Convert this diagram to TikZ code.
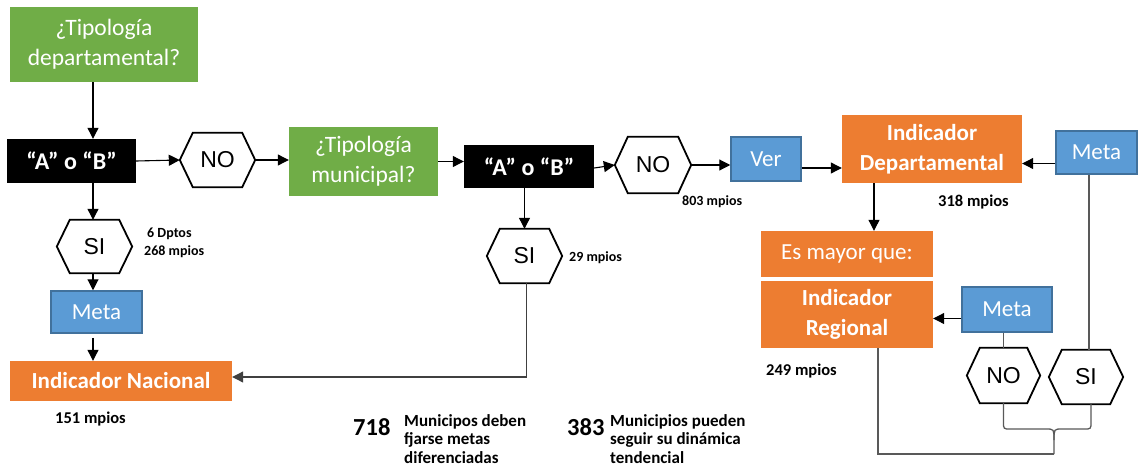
\documentclass[tikz,border=0pt]{standalone}
\usepackage{fontspec}
\setmainfont{Carlito}
\newfontfamily\hexfont{Liberation Sans}
\usetikzlibrary{arrows.meta}
\definecolor{cgreen}{HTML}{70AD47}
\definecolor{corange}{HTML}{ED7D31}
\definecolor{cblue}{HTML}{5B9BD5}
\definecolor{cblueline}{HTML}{41719C}
\begin{document}
\begin{tikzpicture}[x=1pt,y=-1pt,
  box/.style={inner sep=0pt, text=white, align=center},
  greenbox/.style={box, fill=cgreen, font=\fontsize{23.5}{30}\selectfont},
  blackbox/.style={box, fill=black, font=\bfseries\fontsize{24}{28}\selectfont},
  orangebox/.style={box, fill=corange, font=\bfseries\fontsize{23}{30}\selectfont},
  orangeplain/.style={box, fill=corange, font=\fontsize{23}{28}\selectfont},
  bluebox/.style={box, fill=cblue, draw=cblueline, line width=1.5pt, font=\fontsize{23}{28}\selectfont},
  hexbox/.style={inner sep=0pt, font=\hexfont\fontsize{23}{28}\selectfont},
  hexline/.style={draw=black, line width=1.8pt, line join=miter},
  arr/.style={draw=black, line width=1.1pt, -{Triangle[length=11pt,width=11pt]}},
  link/.style={draw=black!65, line width=1.3pt},
  small/.style={font=\bfseries\fontsize{14}{16}\selectfont, inner sep=0pt, anchor=base west},
  mid/.style={font=\bfseries\fontsize{16.5}{19}\selectfont, inner sep=0pt, anchor=base west},
  note/.style={font=\bfseries\fontsize{17}{18.5}\selectfont, inner sep=0pt, anchor=north west, align=left},
  big/.style={font=\bfseries\fontsize{24.5}{28}\selectfont, inner sep=0pt, anchor=base west},
]
\useasboundingbox[fill=white] (0,0) rectangle (1138,471);

% boxes
\node[greenbox, minimum width=188pt, minimum height=75pt] (g1) at (104,44.5) {¿Tipología\\departamental?};
\node[blackbox, minimum width=129pt, minimum height=44pt] (b1) at (71.5,161) {“A” o “B”};
\node[hexbox, minimum width=75pt, minimum height=54pt] (no1) at (217.5,160) {NO};
\node[greenbox, minimum width=149pt, minimum height=69pt] (g2) at (363.5,161.5) {¿Tipología\\municipal?};
\node[blackbox, minimum width=130pt, minimum height=43pt] (b2) at (529,166.5) {“A” o “B”};
\node[hexbox, minimum width=76pt, minimum height=56pt] (no2) at (653,165) {NO};
\node[bluebox, minimum width=70pt, minimum height=44pt] (ver) at (766,159) {Ver};
\node[orangebox, minimum width=180pt, minimum height=68pt] (indDep) at (932,149) {Indicador\\Departamental};
\node[bluebox, minimum width=81pt, minimum height=43pt] (metaR) at (1096.5,152.5) {Meta};
\node[orangeplain, minimum width=172pt, minimum height=46pt] (esM) at (847,254) {Es mayor que:};
\node[orangebox, minimum width=172pt, minimum height=67pt] (indReg) at (847,314.5) {Indicador\\Regional};
\node[bluebox, minimum width=90pt, minimum height=45pt] (meta2) at (1007,309.5) {Meta};
\node[hexbox, minimum width=73pt, minimum height=55pt] (no3) at (1003.5,375.5) {NO};
\node[hexbox, minimum width=74pt, minimum height=54pt] (si3) at (1086,377) {SI};
\node[hexbox, minimum width=75pt, minimum height=53pt] (si1) at (94.5,246.5) {SI};
\node[bluebox, minimum width=91pt, minimum height=42pt] (metaL) at (96.5,312) {Meta};
\node[orangebox, minimum width=222pt, minimum height=40pt] (indNac) at (121,381) {Indicador Nacional};
\node[hexbox, minimum width=75pt, minimum height=54pt] (si2) at (524.5,256) {SI};

\foreach \n in {no1,no2,no3,si1,si2,si3}
  \draw[hexline] (\n.west) -- ([xshift=13pt]\n.north west) -- ([xshift=-13pt]\n.north east) -- (\n.east) -- ([xshift=-13pt]\n.south east) -- ([xshift=13pt]\n.south west) -- cycle;

% labels
\node[small] (l6) at (147,237) {6 Dptos};
\node[small] (l268) at (144,255) {268 mpios};
\node[small] (l29) at (569,261) {29 mpios};
\node[small] (l803) at (682,205) {803 mpios};
\node[mid] (l318) at (938,206) {318 mpios};
\node[mid] (l249) at (766,375) {249 mpios};
\node[mid] (l151) at (55,423) {151 mpios};
\node[big] (n718) at (353,435) {718};
\node[note] (t718) at (404,414) {Municipos deben\\fjarse metas\\diferenciadas};
\node[big] (n383) at (567,435) {383};
\node[note] (t383) at (610,414) {Municipios pueden\\seguir su dinámica\\tendencial};

% connectors
\coordinate (colL) at (93,0);
\draw[arr] (g1.south -| colL) -- (b1.north -| colL);
\draw[arr] (b1.south -| colL) -- (si1.north -| colL);
\draw[arr] (si1.south -| colL) -- (metaL.north -| colL);
\draw[arr] ([yshift=-4pt]metaL.south -| colL) -- (indNac.north -| colL);
\draw[arr] (b1.east) -- (no1.west);
\draw[arr] (no1.east) -- (g2.west |- no1.east);
\draw[arr] (g2.east) -- (b2.west |- g2.east);
\draw[arr] ([yshift=-1.5pt]b2.east) -- (no2.west);
\draw[arr] (no2.east) -- (ver.west |- no2.east);
\draw[arr] ([yshift=-9pt]ver.east) -- ([yshift=-9pt]ver.east -| indDep.west);
\draw[arr] ([yshift=-11pt]metaR.west) -- ([yshift=-11pt]metaR.west -| indDep.east);
\draw[arr] ([xshift=-58pt]indDep.south) -- ([xshift=-58pt]indDep.south |- esM.north);
\draw[arr] ([yshift=-9pt]meta2.west) -- ([yshift=-9pt]meta2.west -| indReg.east);
\draw[arr] (b2.south -| si2) -- (si2.north);
\draw[arr, draw=black!75] ([xshift=2pt]si2.south) |- ([yshift=4pt]indNac.east);
\draw[link] (meta2.south -| no3) -- (no3.north);
\draw[link] ([xshift=-7.5pt]metaR.south) -- ([xshift=-7.5pt]metaR.south |- si3.north);

% brace
\coordinate (tip) at (1054,440);
\coordinate (bot) at (1054,454);
\draw[link] (no3.south) -- (1003.5,422) .. controls (1003.5,429) .. (1010,429) -- (1046,429) .. controls (1054,429) .. (tip) -- (bot);
\draw[link] ([xshift=5pt]si3.south) -- (1091,422) .. controls (1091,429) .. (1084,429) -- (1062,429) .. controls (1054,429) .. (tip);
\draw[link] ([xshift=31pt]indReg.south) -- ([xshift=31pt]indReg.south |- bot) -- (bot);
\end{tikzpicture}
\end{document}
